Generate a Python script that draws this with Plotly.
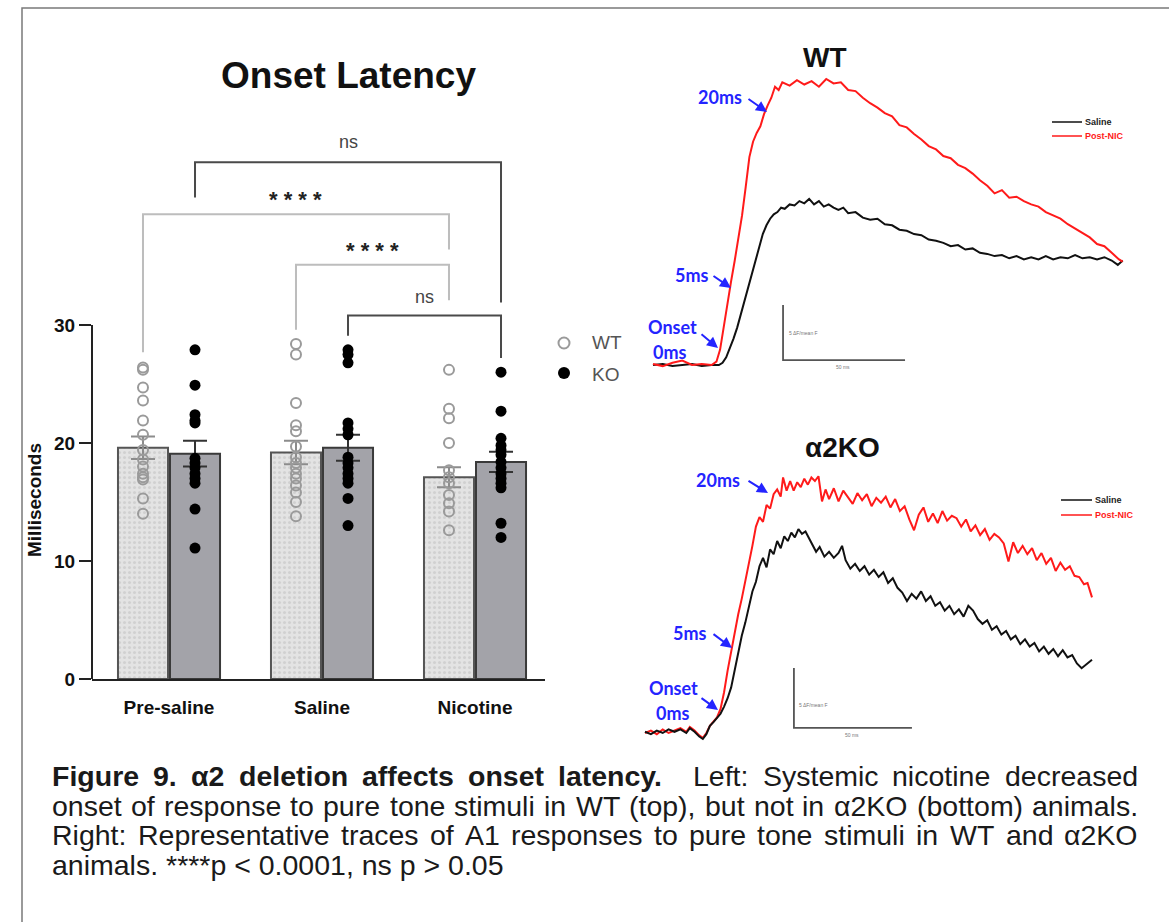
import plotly.graph_objects as go

W, H = 1169, 922
def PX(x): return x / W
def PY(y): return 1 - y / H

FONT = "Liberation Sans, Arial, sans-serif"
BLUE = "#2424ff"

# ---------------- bar chart data (milliseconds) ----------------
groups = ["Pre-saline", "Saline", "Nicotine"]
wt_mean = [19.6, 19.2, 17.1]
wt_sem = [0.95, 1.0, 0.85]
ko_mean = [19.1, 19.6, 18.4]
ko_sem = [1.1, 1.1, 0.85]

wt_pre = [26.4, 26.2, 24.7, 23.6, 21.9, 20.7, 19.4, 18.6, 18.0, 17.4, 17.1, 16.9, 15.3, 14.0]
ko_pre = [27.9, 24.9, 22.4, 21.9, 21.7, 18.7, 18.3, 17.9, 17.4, 17.0, 16.6, 14.4, 11.1]
wt_sal = [28.4, 27.5, 23.4, 21.5, 21.0, 19.7, 18.8, 18.3, 17.9, 17.4, 17.0, 16.4, 15.8, 15.0, 13.8]
ko_sal = [27.9, 27.5, 26.8, 21.7, 21.2, 20.7, 18.8, 18.3, 17.9, 17.4, 17.0, 16.6, 15.3, 13.0]
wt_nic = [26.2, 22.9, 22.1, 20.0, 17.7, 17.1, 16.6, 15.6, 14.9, 14.2, 12.6]
ko_nic = [26.0, 22.7, 20.4, 19.8, 19.4, 19.0, 18.4, 17.9, 17.4, 17.0, 16.6, 16.2, 13.2, 12.0]
wt_points = [wt_pre, wt_sal, wt_nic]
ko_points = [ko_pre, ko_sal, ko_nic]

y_ticks = [0, 10, 20, 30]

# significance comparisons: (group, side) pairs; side -1 = WT, +1 = KO
sig_pairs = [((0, 1), (2, 1)), ((0, -1), (2, -1)), ((1, -1), (2, -1)), ((1, 1), (2, 1))]
sig_labels = ["ns", "* * * *", "* * * *", "ns"]
sig_top = [43.8, 39.4, 35.1, 30.8]
sig_left_end = [40.8, 27.7, 29.6, 29.1]
sig_right_end = [31.9, 36.4, 32.1, 27.2]
sig_label_y = [45.5, 40.6, 36.3, 32.4]
sig_colors = ["#4a4a4a", "#bdbdbd", "#bdbdbd", "#4a4a4a"]

# ---------------- representative traces (ms, dF units) ----------------
wt_t_nic = [0, 4, 8, 12, 16, 20, 24, 26, 27.5, 29, 30.5, 32, 33.5, 35, 36.5, 38, 39.5, 41, 42.5, 44,
            45.5, 47, 48.5, 50, 51.5, 53, 56, 59, 62, 65, 68, 71, 74, 77, 80, 83, 86, 89, 92, 95, 98,
            101, 104, 107, 110, 113, 116, 119, 122, 125, 128, 131, 134, 137, 140, 143, 146, 149, 152,
            155, 158, 161, 164, 167, 170, 173, 176, 179, 182, 185, 188, 191, 192.5]
wt_v_nic = [0.1, -0.1, 0.2, 0.4, 0.0, 0.1, 0.0, 0.3, 1.4, 3.6, 5.6, 7.6, 9.5, 11.6, 13.6, 16.2, 18.9,
            20.3, 21.1, 21.7, 22.8, 23.6, 24.3, 25.3, 25.0, 25.7, 25.4, 25.9, 25.5, 25.8, 25.3, 26.0,
            25.6, 25.7, 25.0, 24.9, 24.3, 23.8, 23.4, 22.9, 22.6, 21.8, 21.6, 21.0, 20.5, 19.9, 19.6,
            19.0, 18.8, 18.2, 17.9, 17.4, 16.8, 16.3, 15.6, 15.9, 15.2, 15.3, 14.9, 14.6, 14.4, 13.9,
            13.6, 13.3, 12.8, 12.4, 12.0, 11.6, 11.0, 10.8, 10.2, 9.6, 9.4]
wt_t_sal = [0, 4, 8, 12, 16, 20, 24, 27, 28.5, 30, 31.5, 33, 34.5, 36, 37.5, 39, 40.5, 42, 43.5, 45,
            46.5, 48, 49.5, 51, 52.5, 54, 56, 58, 60, 62, 64, 66, 68, 70, 72, 74, 76, 78, 80, 83, 86,
            89, 92, 95, 98, 101, 104, 107, 110, 113, 116, 119, 122, 125, 128, 131, 134, 137, 140, 143,
            146, 149, 152, 155, 158, 161, 164, 167, 170, 173, 176, 179, 182, 185, 188, 190.5, 192.5]
wt_v_sal = [0.0, 0.1, -0.1, 0.0, 0.1, -0.1, 0.0, 0.0, 0.2, 0.7, 1.5, 2.4, 3.4, 4.6, 5.8, 7.0, 8.3, 9.6,
            10.8, 11.9, 12.7, 13.3, 13.7, 13.9, 14.3, 14.2, 14.6, 14.5, 14.9, 14.7, 15.1, 14.6, 14.9,
            14.4, 14.6, 14.3, 14.1, 14.3, 13.8, 13.9, 13.4, 13.2, 13.3, 12.8, 12.7, 12.3, 12.2, 11.9,
            11.8, 11.4, 11.3, 11.1, 10.8, 10.9, 10.5, 10.6, 10.2, 10.1, 9.9, 10.0, 9.7, 9.9, 9.6, 9.8,
            9.6, 9.9, 9.6, 9.8, 9.7, 10.0, 9.7, 9.8, 9.6, 9.8, 9.5, 9.1, 9.5]

ko_t_nic = [0, 2.5, 5, 7.5, 10, 12.5, 15, 17.5, 19, 21, 23, 24.5, 26, 27.5, 29, 30.5, 32, 33.5, 35, 36.5,
            38, 39.5, 41, 42.5, 44, 45.5, 47, 48.5, 50, 51.5, 53, 54.5, 56, 57.5, 58.5, 60, 61.5, 63,
            64.5, 66, 67.5, 69, 70.5, 72, 73.5, 75, 76.5, 78, 80, 82, 84, 86, 88, 90, 92, 94, 96, 98,
            100, 102, 104, 106, 108, 110, 112, 114, 116, 118, 120, 122, 124, 126, 128, 130, 132, 134,
            136, 138, 140, 142, 144, 146, 148, 150, 152, 154, 156, 158, 160, 162, 164, 166, 168, 170,
            172, 174, 176, 178, 180, 182, 184, 186, 187.5, 189.4]
ko_v_nic = [0.0, 0.2, -0.1, 0.3, 0.0, 0.2, 0.4, 0.1, 0.5, 0.2, -0.2, -0.4, 0.0, 0.6, 1.0, 1.3, 2.0, 3.4,
            5.2, 6.8, 8.4, 9.9, 11.2, 12.6, 14.1, 15.6, 17.2, 18.0, 17.6, 19.0, 18.7, 19.9, 20.3, 19.7,
            21.3, 20.2, 21.0, 20.2, 20.9, 20.5, 21.2, 20.7, 21.3, 21.0, 21.4, 19.3, 20.3, 19.5, 20.4,
            19.3, 20.2, 19.6, 19.1, 20.0, 19.4, 19.9, 18.9, 19.6, 19.2, 19.7, 18.8, 19.5, 18.5, 18.9,
            17.8, 16.9, 18.2, 18.8, 17.6, 18.3, 17.5, 18.5, 17.7, 18.1, 17.9, 17.2, 17.8, 16.8, 17.3,
            16.5, 17.0, 16.1, 16.6, 16.3, 15.8, 14.3, 15.9, 15.0, 15.6, 14.9, 15.4, 14.4, 15.0, 14.1,
            14.6, 13.5, 14.2, 13.6, 13.9, 13.1, 13.0, 12.4, 12.5, 11.3]
ko_t_sal = [0, 2.5, 5, 7.5, 10, 12.5, 15, 17.5, 19, 21, 23, 24.5, 26, 27.5, 29, 30.5, 32, 33.5, 35, 36.5,
            38, 39.5, 41, 42.5, 44, 45.5, 47, 48.5, 50, 51.5, 53, 54.5, 56, 57.5, 59, 60.5, 62, 63.5, 65,
            66.5, 68, 69.5, 71, 72.5, 74, 76, 78, 80, 82, 83.5, 85, 87, 89, 91, 93, 95, 97, 99, 101, 103,
            105, 107, 109, 111, 113, 115, 117, 119, 121, 123, 125, 127, 129, 131, 133, 135, 137, 139,
            141, 143, 145, 147, 149, 151, 153, 155, 157, 159, 161, 163, 165, 167, 169, 171, 173, 175,
            177, 179, 181, 183, 185, 187, 189.4]
ko_v_sal = [0.1, -0.1, 0.2, 0.0, 0.3, 0.1, 0.3, 0.0, 0.4, 0.1, -0.3, -0.5, -0.1, 0.6, 0.9, 1.3, 1.6, 2.2,
            2.9, 3.8, 5.2, 6.8, 8.1, 9.2, 10.5, 11.8, 12.6, 13.9, 14.6, 13.8, 15.3, 14.9, 16.0, 15.4,
            16.4, 16.0, 16.7, 16.3, 17.0, 16.6, 16.8, 16.2, 15.6, 15.1, 15.5, 14.7, 15.1, 14.6, 15.0,
            15.6, 14.4, 13.7, 14.1, 13.5, 13.9, 13.2, 13.6, 13.0, 13.4, 12.5, 12.9, 12.1, 11.7, 11.0,
            11.6, 11.2, 11.8, 11.0, 11.4, 10.6, 10.9, 10.2, 10.6, 9.9, 10.3, 9.7, 10.6, 10.2, 9.5, 9.1,
            9.4, 8.6, 8.9, 8.2, 8.5, 7.8, 8.1, 7.4, 7.8, 7.2, 7.5, 6.8, 7.2, 6.6, 7.0, 6.4, 6.9, 6.3,
            6.5, 5.8, 5.4, 5.7, 6.1]

scale_ms = 50
scale_amp = 5

# ---------------- figure ----------------
fig = go.Figure()
OFF, BW = 0.17, 0.327
Y_TOP = 46.53          # y range top so brackets fit above the 0-30 axis
wt_x = [g - OFF for g in range(len(groups))]
ko_x = [g + OFF for g in range(len(groups))]

fig.add_trace(go.Bar(
    x=wt_x, y=wt_mean, width=BW, xaxis="x", yaxis="y",
    marker=dict(color="#e3e3e3", line=dict(color="#555555", width=2),
                pattern=dict(shape=".", fgcolor="#bdbdbd", size=5, solidity=0.3)),
    error_y=dict(type="data", array=wt_sem, color="#8c8c8c", thickness=2, width=12)))
fig.add_trace(go.Bar(
    x=ko_x, y=ko_mean, width=BW, xaxis="x", yaxis="y",
    marker=dict(color="#a3a3a9", line=dict(color="#3a3a3a", width=2)),
    error_y=dict(type="data", array=ko_sem, color="#333333", thickness=2, width=12)))

annotations = []
for i, (a, b) in enumerate(sig_pairs):
    xa = a[0] + a[1] * OFF
    xb = b[0] + b[1] * OFF
    fig.add_trace(go.Scatter(x=[xa, xa, xb, xb], y=[sig_left_end[i], sig_top[i], sig_top[i], sig_right_end[i]],
                             mode="lines", xaxis="x", yaxis="y",
                             line=dict(color=sig_colors[i], width=2)))
    is_star = "*" in sig_labels[i]
    annotations.append(dict(x=(xa + xb) / 2, y=sig_label_y[i], xref="x", yref="y",
                            text=("<b>%s</b>" % sig_labels[i]) if is_star else sig_labels[i],
                            showarrow=False, xanchor="center", yanchor="middle",
                            font=dict(family=FONT, size=22 if is_star else 18,
                                      color="#222" if is_star else "#444")))

px_wt, py_wt, px_ko, py_ko = [], [], [], []
for g in range(len(groups)):
    px_wt += [wt_x[g]] * len(wt_points[g]); py_wt += wt_points[g]
    px_ko += [ko_x[g]] * len(ko_points[g]); py_ko += ko_points[g]
fig.add_trace(go.Scatter(x=px_wt, y=py_wt, mode="markers", xaxis="x", yaxis="y",
                         marker=dict(symbol="circle-open", size=10, color="#9a9a9a", line=dict(width=2))))
fig.add_trace(go.Scatter(x=px_ko, y=py_ko, mode="markers", xaxis="x", yaxis="y",
                         marker=dict(symbol="circle", size=11, color="#000000")))

# traces panels
fig.add_trace(go.Scatter(x=wt_t_sal, y=wt_v_sal, mode="lines", xaxis="x2", yaxis="y2",
                         line=dict(color="#111111", width=2)))
fig.add_trace(go.Scatter(x=wt_t_nic, y=wt_v_nic, mode="lines", xaxis="x2", yaxis="y2",
                         line=dict(color="#ff1a1a", width=2)))
fig.add_trace(go.Scatter(x=ko_t_nic, y=ko_v_nic, mode="lines", xaxis="x3", yaxis="y3",
                         line=dict(color="#ff1a1a", width=2)))
fig.add_trace(go.Scatter(x=ko_t_sal, y=ko_v_sal, mode="lines", xaxis="x3", yaxis="y3",
                         line=dict(color="#111111", width=2)))

shapes = []
# y axis line from 0 to 30 (domain-referenced, not clipped)
shapes.append(dict(type="line", xref="x domain", yref="y domain", x0=0, x1=0, y0=0,
                   y1=max(y_ticks) / Y_TOP, line=dict(color="#222", width=2)))

# scale bars
for xr, yr, t0, a0 in [("x2", "y2", 53.3, 0.45), ("x3", "y3", 63.1, 0.42)]:
    shapes.append(dict(type="path", xref=xr, yref=yr,
                       path="M %f,%f L %f,%f L %f,%f" % (t0, a0 + scale_amp, t0, a0, t0 + scale_ms, a0),
                       line=dict(color="#555", width=1.8)))

# bar legend
shapes.append(dict(type="circle", xref="paper", yref="paper", x0=PX(558.5), x1=PX(569.5),
                   y0=PY(348.5), y1=PY(337.5), line=dict(color="#9a9a9a", width=2)))
shapes.append(dict(type="circle", xref="paper", yref="paper", x0=PX(558), x1=PX(570),
                   y0=PY(379), y1=PY(367), fillcolor="#000", line=dict(color="#000", width=0)))

def ann(x, y, text, size, color="#111", xanchor="center", family=FONT, **kw):
    d = dict(x=PX(x), y=PY(y), xref="paper", yref="paper", text=text, showarrow=False,
             xanchor=xanchor, yanchor="middle", font=dict(family=family, size=size, color=color))
    d.update(kw)
    annotations.append(d)

ann(590, 342, "WT", 19, "#555", "left")
ann(590, 374, "KO", 19, "#555", "left")

# trace legends
for (x0, x1, yb, yr_) in [(1052, 1082, 122, 136), (1061, 1092, 500, 515)]:
    shapes.append(dict(type="line", xref="paper", yref="paper", x0=PX(x0), x1=PX(x1), y0=PY(yb), y1=PY(yb),
                       line=dict(color="#111", width=1.5)))
    shapes.append(dict(type="line", xref="paper", yref="paper", x0=PX(x0), x1=PX(x1), y0=PY(yr_), y1=PY(yr_),
                       line=dict(color="#ff1a1a", width=1.5)))
    ann(x1 + 1, yb, "<b>Saline</b>", 9, "#222", "left")
    ann(x1 + 1, yr_, "<b>Post-NIC</b>", 9, "#ff1a1a", "left")

# scale bar labels
for (lx, ly, hx, hy) in [(787, 333, 843, 367), (797, 705, 852, 735)]:
    ann(lx, ly, "5 ΔF/mean F", 5, "#777", "left")
    ann(hx, hy, "50 ms", 5, "#777")

# titles
ann(348, 76, "<b>Onset Latency</b>", 37, "#111")
ann(825, 58, "<b>WT</b>", 28, "#111")
ann(842, 447, "<b>α2KO</b>", 28, "#111")
ann(34, 500, "<b>Milliseconds</b>", 19, "#111", textangle=-90)

# blue onset labels and arrows
BF = dict(family="Lato, " + FONT, size=18, color=BLUE, weight="bold")
blue_texts = [("20ms", 720, 97), ("5ms", 692, 275), ("Onset", 672, 327), ("0ms", 670, 352),
              ("20ms", 718, 480), ("5ms", 690, 633), ("Onset", 673, 688), ("0ms", 673, 713)]
for t, x, y in blue_texts:
    annotations.append(dict(x=PX(x), y=PY(y), xref="paper", yref="paper", text=t, showarrow=False,
                            xanchor="center", yanchor="middle", font=BF))
blue_arrows = [(767, 112, -20, -14), (731, 288, -19, -13), (718, 348, -18, -15),
               (768, 493, -21, -13), (732, 648, -20, -15), (718, 710, -18, -13)]
for x, y, ax, ay in blue_arrows:
    annotations.append(dict(x=PX(x), y=PY(y), xref="paper", yref="paper", text="", showarrow=True,
                            ax=ax, ay=ay, arrowhead=2, arrowsize=1.1, arrowwidth=2, arrowcolor=BLUE, standoff=0))

# ---------------- caption (justified) ----------------
REG = dict(zip("abcdefghijklmnopqrstuvwxyz",
               [556, 556, 500, 556, 556, 278, 556, 556, 222, 222, 500, 222, 833, 556, 556, 556, 556, 333,
                500, 278, 556, 500, 722, 500, 500, 500]))
REG.update(dict(zip("ABCDEFGHIJKLMNOPQRSTUVWXYZ",
                    [667, 667, 722, 722, 667, 611, 778, 722, 278, 500, 667, 556, 833, 722, 778, 667, 778,
                     722, 667, 611, 722, 667, 944, 667, 667, 611])))
REG.update({c: 556 for c in "0123456789"})
REG.update({" ": 278, ".": 278, ",": 278, ":": 278, "(": 333, ")": 333, "*": 389, "<": 584, ">": 584,
            "-": 333, "α": 578})
BOLD = dict(zip("abcdefghijklmnopqrstuvwxyz",
                [556, 611, 556, 611, 556, 333, 611, 611, 278, 278, 556, 278, 889, 611, 611, 611, 611, 389,
                 556, 333, 611, 556, 778, 556, 556, 500]))
BOLD.update({c: 556 for c in "0123456789"})
BOLD.update({" ": 278, ".": 278, "F": 611, "α": 600})

FS = 28.5
XL, XR = 52, 1138

def text_w(s, bold):
    tab = BOLD if bold else REG
    return sum(tab.get(c, 556) for c in s) / 1000 * FS

def caption_line(words, y):
    total = sum(text_w(w, b) for w, b, _ in words)
    nsp = sum(s for _, _, s in words[:-1])
    gap = ((XR - XL) - total) / nsp
    x = XL
    for w, b, s in words:
        ann(x, y, ("<b>%s</b>" % w) if b else w, FS, "#1a1a1a", "left", xshift=-2)
        x += text_w(w, b) + s * gap

line1 = [("Figure", 1, 1), ("9.", 1, 1), ("α2", 1, 1), ("deletion", 1, 1), ("affects", 1, 1),
         ("onset", 1, 1), ("latency.", 1, 2), ("Left:", 0, 1), ("Systemic", 0, 1), ("nicotine", 0, 1),
         ("decreased", 0, 0)]
line2 = [(w, 0, 1) for w in "onset of response to pure tone stimuli in WT (top), but not in α2KO (bottom) animals.".split()]
line3 = [(w, 0, 1) for w in "Right: Representative traces of A1 responses to pure tone stimuli in WT and α2KO".split()]
caption_line(line1, 776)
caption_line(line2, 806)
caption_line(line3, 835)
ann(XL, 865, "animals. ****p &lt; 0.0001, ns p &gt; 0.05", FS, "#1a1a1a", "left", xshift=-2)

# outer border
shapes.append(dict(type="rect", xref="paper", yref="paper", x0=PX(22), x1=PX(1200), y0=PY(960), y1=PY(8),
                   line=dict(color="#7a7a7a", width=1.5)))

fig.update_layout(
    width=W, height=H, autosize=False, margin=dict(l=0, r=0, t=0, b=0, pad=0, autoexpand=False),
    paper_bgcolor="white", plot_bgcolor="white", showlegend=False, barmode="overlay",
    shapes=shapes, annotations=annotations,
    xaxis=dict(domain=[PX(92), PX(545)], range=[-0.5033, 2.4575], tickvals=[0, 1, 2], ticktext=groups,
               showline=True, linecolor="#222", linewidth=2, ticks="", showgrid=False, zeroline=False,
               tickfont=dict(family=FONT, size=19, color="#111", weight="bold"), anchor="y",
               ticklabelstandoff=10, automargin=False),
    yaxis=dict(domain=[PY(679), PY(130)], range=[0, Y_TOP], tickvals=y_ticks, showline=False,
               ticks="outside", ticklen=12, tickwidth=2, tickcolor="#222", showgrid=False, zeroline=False,
               tickfont=dict(family=FONT, size=19, color="#111", weight="bold"), anchor="x",
               automargin=False),
    xaxis2=dict(domain=[PX(645), PX(1130)], range=[-3.28, 195.5], visible=False, anchor="y2", automargin=False),
    yaxis2=dict(domain=[PY(375), PY(60)], range=[-0.909, 27.727], visible=False, anchor="x2", automargin=False),
    xaxis3=dict(domain=[PX(640), PX(1130)], range=[-2.12, 205.5], visible=False, anchor="y3", automargin=False),
    yaxis3=dict(domain=[PY(745), PY(470)], range=[-1.0, 21.92], visible=False, anchor="x3", automargin=False),
)

fig.write_html("out.html")
